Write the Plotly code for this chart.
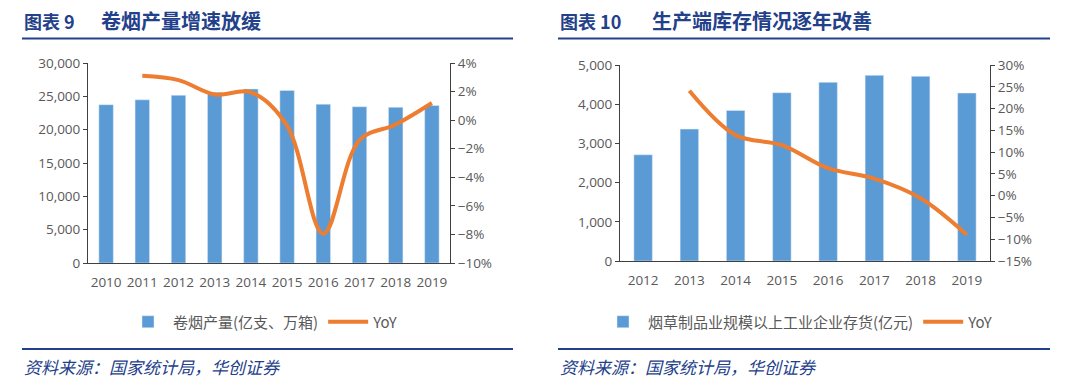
import plotly.graph_objects as go

# ---- data ----
years_left = ["2010", "2011", "2012", "2013", "2014", "2015", "2016", "2017", "2018", "2019"]
cig_output = [23752, 24474, 25159, 25604, 26098, 25890, 23826, 23448, 23356, 23643]
cig_yoy = [None, 3.1, 2.8, 1.8, 1.95, -0.4, -7.95, -1.4, -0.3, 1.2]

years_right = ["2012", "2013", "2014", "2015", "2016", "2017", "2018", "2019"]
inventory = [2710, 3365, 3842, 4293, 4557, 4736, 4710, 4284]
inv_yoy = [None, 24.1, 13.9, 11.6, 6.3, 3.9, -0.6, -9.0]

title_left_no = "图表 9"
title_left = "卷烟产量增速放缓"
title_right_no = "图表 10"
title_right = "生产端库存情况逐年改善"
source_text = "资料来源：国家统计局，华创证券"
bar_name_left = "卷烟产量(亿支、万箱)"
bar_name_right = "烟草制品业规模以上工业企业存货(亿元)"

W, H = 1080, 387
BLUE = "#5B9BD5"
ORANGE = "#ED7D31"
GRAY = "#595959"
NAVY = "#23408A"
AX = "#404040"
FONT = "Open Sans, Noto Sans CJK SC, sans-serif"
CJK = "Noto Sans CJK SC"

def px_x(x):
    return x / W

def px_y(y):
    return 1 - y / H

fig = go.Figure()

fig.add_trace(go.Bar(x=years_left, y=cig_output, name=bar_name_left, marker_color=BLUE,
                     xaxis="x", yaxis="y", legend="legend"))
fig.add_trace(go.Scatter(x=years_left, y=cig_yoy, name="YoY", mode="lines",
                         line=dict(color=ORANGE, width=4, shape="spline", smoothing=1.0),
                         xaxis="x", yaxis="y2", legend="legend"))
fig.add_trace(go.Bar(x=years_right, y=inventory, name=bar_name_right, marker_color=BLUE,
                     xaxis="x2", yaxis="y3", legend="legend2"))
fig.add_trace(go.Scatter(x=years_right, y=inv_yoy, name="YoY", mode="lines",
                         line=dict(color=ORANGE, width=4, shape="spline", smoothing=1.0),
                         xaxis="x2", yaxis="y4", legend="legend2"))

tickfont = dict(family=FONT, size=13.5, color=GRAY)

xl = [px_x(88), px_x(450)]
yl = [px_y(263), px_y(63)]
xr = [px_x(620), px_x(990)]
yr = [px_y(261), px_y(65)]

common_y = dict(showline=True, linecolor=AX, linewidth=1, ticks="outside", ticklen=4,
                tickcolor=AX, tickfont=tickfont, showgrid=False, zeroline=False)
common_x = dict(showline=True, linecolor=AX, linewidth=1, ticks="", tickfont=tickfont,
                ticklabelstandoff=7, showgrid=False)

fig.update_layout(
    width=W, height=H,
    margin=dict(l=0, r=0, t=0, b=0, autoexpand=False),
    paper_bgcolor="white", plot_bgcolor="white",
    bargap=0.6,
    xaxis=dict(domain=xl, anchor="y", **common_x),
    yaxis=dict(domain=yl, anchor="x", range=[0, 30000], dtick=5000, tickformat=",", **common_y),
    yaxis2=dict(domain=yl, anchor="x", overlaying="y", side="right", range=[-10, 4], dtick=2,
                ticksuffix="%", **common_y),
    xaxis2=dict(domain=xr, anchor="y3", **common_x),
    yaxis3=dict(domain=yr, anchor="x2", range=[0, 5000], dtick=1000, tickformat=",", **common_y),
    yaxis4=dict(domain=yr, anchor="x2", overlaying="y3", side="right", range=[-15, 30], dtick=5,
                ticksuffix="%", **common_y),
    legend=dict(orientation="h", x=px_x(263), y=px_y(322), xanchor="center", yanchor="middle",
                font=dict(family=CJK, size=15, color=GRAY), bgcolor="rgba(0,0,0,0)",
                itemwidth=40, tracegroupgap=0),
    legend2=dict(orientation="h", x=px_x(798), y=px_y(322), xanchor="center", yanchor="middle",
                 font=dict(family=CJK, size=15, color=GRAY), bgcolor="rgba(0,0,0,0)",
                 itemwidth=40, tracegroupgap=0),
    showlegend=True,
)

# title + rule lines
shapes = []
for x0, x1 in [(22, 513), (558, 1050)]:
    shapes.append(dict(type="line", xref="paper", yref="paper", x0=px_x(x0), x1=px_x(x1),
                       y0=px_y(38.5), y1=px_y(38.5), line=dict(color=NAVY, width=2)))
    shapes.append(dict(type="line", xref="paper", yref="paper", x0=px_x(x0), x1=px_x(x1),
                       y0=px_y(349), y1=px_y(349), line=dict(color=NAVY, width=2)))
fig.update_layout(shapes=shapes)

def ann(text, x, y, size, bold=False, italic=False):
    t = text
    if bold:
        t = "<b>" + t + "</b>"
    if italic:
        t = "<i>" + t + "</i>"
    return dict(text=t, x=px_x(x), y=px_y(y), xref="paper", yref="paper",
                xanchor="left", yanchor="middle", showarrow=False,
                font=dict(family=CJK, size=size, color=NAVY))

annotations = [
    ann(title_left_no, 22, 21, 18, bold=True),
    ann(title_left, 99, 21, 20, bold=True),
    ann(title_right_no, 558, 21, 18, bold=True),
    ann(title_right, 650, 21, 20, bold=True),
    ann(source_text, 22, 366, 17, italic=True),
    ann(source_text, 558, 366, 17, italic=True),
]
fig.update_layout(annotations=annotations)

fig.write_html("out.html", config={"displayModeBar": False},
               post_script="document.body.style.margin='0';")
